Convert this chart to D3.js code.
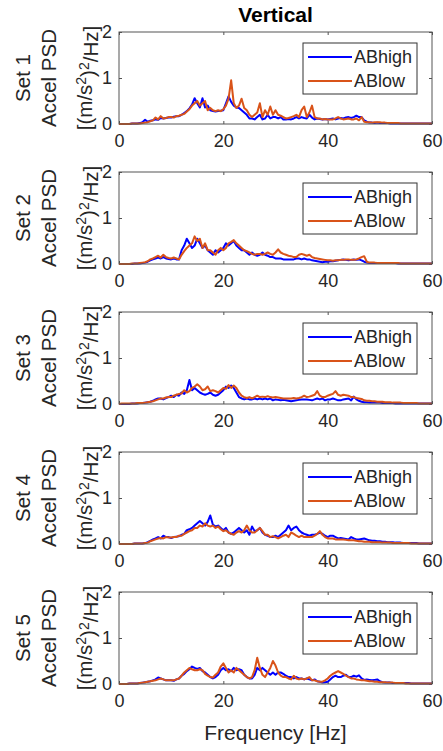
<!DOCTYPE html>
<html><head><meta charset="utf-8">
<script src="https://cdn.jsdelivr.net/npm/d3@7"></script>
<style>body{margin:0;background:#fff}svg{display:block}</style>
</head><body>
<script>
// ---- data ----
const title = "Vertical";
const setNames = ["Set 1","Set 2","Set 3","Set 4","Set 5"];
const seriesNames = ["ABhigh","ABlow"];
const xTicks = [0,20,40,60];
const yTicks = [0,1,2];
const freqStep = 0.5; // Hz, frequency grid 0..60
const set1High = [0.00,0.00,0.00,0.00,0.00,0.01,0.01,0.01,0.02,0.04,
0.09,0.05,0.07,0.08,0.10,0.09,0.13,0.12,0.13,0.14,
0.14,0.16,0.17,0.17,0.20,0.24,0.28,0.34,0.42,0.56,
0.45,0.36,0.56,0.36,0.40,0.30,0.28,0.27,0.28,0.29,
0.30,0.45,0.60,0.48,0.40,0.36,0.35,0.30,0.25,0.20,
0.12,0.12,0.10,0.15,0.20,0.10,0.12,0.20,0.12,0.15,
0.15,0.12,0.15,0.10,0.10,0.11,0.10,0.12,0.15,0.12,
0.15,0.13,0.12,0.20,0.14,0.10,0.12,0.11,0.10,0.11,
0.10,0.11,0.12,0.10,0.12,0.13,0.12,0.14,0.15,0.13,
0.15,0.18,0.15,0.15,0.08,0.05,0.03,0.03,0.02,0.03,
0.02,0.02,0.02,0.02,0.01,0.01,0.01,0.01,0.01,0.01,
0.01,0.01,0.01,0.01,0.01,0.01,0.01,0.01,0.01,0.01,0.01];
const set1Low = [0.00,0.00,0.00,0.00,0.00,0.01,0.01,0.01,0.01,0.02,
0.03,0.04,0.06,0.08,0.14,0.10,0.17,0.12,0.13,0.15,
0.15,0.14,0.17,0.18,0.20,0.22,0.27,0.32,0.40,0.45,
0.50,0.40,0.45,0.50,0.30,0.35,0.30,0.28,0.30,0.28,
0.32,0.40,0.55,0.95,0.45,0.35,0.40,0.55,0.35,0.30,
0.20,0.15,0.20,0.25,0.45,0.15,0.30,0.20,0.38,0.20,
0.30,0.20,0.18,0.15,0.12,0.13,0.15,0.17,0.20,0.15,
0.30,0.38,0.15,0.25,0.40,0.15,0.12,0.12,0.10,0.11,
0.10,0.10,0.10,0.12,0.15,0.12,0.10,0.11,0.12,0.10,
0.10,0.12,0.08,0.15,0.05,0.04,0.04,0.03,0.04,0.04,
0.04,0.03,0.03,0.02,0.02,0.02,0.02,0.02,0.01,0.01,
0.01,0.01,0.01,0.01,0.01,0.01,0.01,0.01,0.01,0.01,0.01];
const set2High = [0.00,0.00,0.00,0.00,0.00,0.00,0.01,0.01,0.01,0.02,
0.03,0.05,0.08,0.10,0.12,0.14,0.12,0.15,0.12,0.11,
0.10,0.12,0.10,0.10,0.30,0.40,0.55,0.45,0.35,0.40,
0.55,0.45,0.35,0.40,0.30,0.25,0.20,0.30,0.25,0.30,
0.35,0.45,0.40,0.45,0.50,0.40,0.35,0.30,0.30,0.25,
0.20,0.25,0.20,0.18,0.20,0.25,0.20,0.18,0.15,0.15,
0.12,0.12,0.12,0.10,0.10,0.10,0.10,0.10,0.12,0.12,
0.10,0.12,0.10,0.10,0.08,0.07,0.06,0.05,0.04,0.05,
0.05,0.06,0.06,0.07,0.08,0.09,0.10,0.09,0.08,0.09,
0.10,0.09,0.10,0.08,0.05,0.03,0.02,0.02,0.02,0.02,
0.02,0.02,0.02,0.02,0.02,0.02,0.02,0.01,0.01,0.01,
0.01,0.01,0.01,0.01,0.01,0.01,0.01,0.01,0.01,0.01,0.01];
const set2Low = [0.00,0.00,0.00,0.00,0.00,0.01,0.01,0.01,0.02,0.03,
0.04,0.06,0.10,0.12,0.15,0.18,0.14,0.20,0.15,0.13,
0.12,0.14,0.12,0.10,0.20,0.28,0.35,0.40,0.45,0.60,
0.50,0.55,0.35,0.45,0.30,0.30,0.25,0.20,0.30,0.35,
0.30,0.35,0.45,0.48,0.52,0.45,0.40,0.35,0.30,0.28,
0.25,0.22,0.20,0.22,0.22,0.20,0.22,0.25,0.22,0.20,
0.25,0.32,0.25,0.22,0.20,0.18,0.17,0.15,0.15,0.20,
0.22,0.20,0.18,0.20,0.15,0.13,0.12,0.11,0.10,0.09,
0.08,0.08,0.07,0.08,0.08,0.09,0.09,0.10,0.10,0.09,
0.09,0.10,0.12,0.15,0.17,0.05,0.03,0.03,0.03,0.02,
0.02,0.02,0.02,0.02,0.02,0.02,0.02,0.02,0.01,0.01,
0.01,0.01,0.01,0.01,0.01,0.01,0.01,0.01,0.01,0.01,0.01];
const set3High = [0.00,0.00,0.00,0.00,0.00,0.01,0.01,0.01,0.02,0.02,
0.03,0.04,0.05,0.07,0.10,0.12,0.12,0.10,0.13,0.15,
0.18,0.15,0.20,0.18,0.25,0.22,0.30,0.52,0.30,0.35,
0.30,0.25,0.22,0.20,0.22,0.25,0.20,0.18,0.20,0.25,
0.30,0.38,0.35,0.40,0.35,0.25,0.15,0.12,0.10,0.12,
0.10,0.10,0.12,0.10,0.12,0.10,0.12,0.10,0.12,0.08,
0.10,0.09,0.08,0.09,0.08,0.07,0.06,0.07,0.08,0.09,
0.10,0.10,0.10,0.09,0.08,0.10,0.12,0.10,0.12,0.08,
0.10,0.10,0.12,0.10,0.08,0.08,0.10,0.11,0.12,0.08,
0.16,0.10,0.07,0.05,0.04,0.04,0.03,0.03,0.03,0.03,
0.03,0.02,0.02,0.02,0.02,0.02,0.01,0.01,0.01,0.01,
0.01,0.01,0.01,0.01,0.01,0.01,0.01,0.01,0.01,0.01,0.01];
const set3Low = [0.00,0.01,0.01,0.01,0.01,0.01,0.01,0.02,0.02,0.02,
0.03,0.04,0.05,0.06,0.08,0.10,0.12,0.12,0.14,0.15,
0.15,0.18,0.20,0.22,0.23,0.30,0.25,0.28,0.35,0.38,
0.43,0.38,0.30,0.32,0.38,0.28,0.30,0.28,0.25,0.30,
0.35,0.33,0.41,0.35,0.40,0.35,0.25,0.18,0.15,0.13,
0.15,0.12,0.15,0.18,0.15,0.16,0.15,0.17,0.15,0.14,
0.15,0.14,0.13,0.12,0.12,0.12,0.12,0.13,0.12,0.13,
0.15,0.18,0.15,0.16,0.18,0.20,0.28,0.18,0.15,0.15,
0.18,0.20,0.22,0.28,0.20,0.18,0.20,0.19,0.18,0.15,
0.15,0.13,0.12,0.11,0.08,0.07,0.07,0.06,0.06,0.05,
0.05,0.05,0.04,0.04,0.04,0.03,0.03,0.03,0.03,0.02,
0.02,0.02,0.02,0.02,0.02,0.01,0.01,0.01,0.01,0.01,0.01];
const set4High = [0.00,0.00,0.00,0.00,0.00,0.00,0.01,0.01,0.01,0.01,
0.02,0.04,0.07,0.10,0.12,0.15,0.12,0.18,0.15,0.15,
0.13,0.15,0.16,0.17,0.20,0.22,0.30,0.32,0.35,0.40,
0.45,0.50,0.45,0.40,0.48,0.62,0.42,0.38,0.40,0.35,
0.30,0.35,0.25,0.22,0.25,0.30,0.35,0.30,0.25,0.30,
0.20,0.38,0.28,0.30,0.35,0.25,0.20,0.18,0.15,0.15,
0.18,0.15,0.20,0.25,0.30,0.40,0.30,0.35,0.38,0.30,
0.25,0.22,0.20,0.18,0.20,0.20,0.22,0.25,0.22,0.18,
0.15,0.18,0.18,0.15,0.12,0.13,0.12,0.11,0.10,0.15,
0.12,0.10,0.10,0.11,0.12,0.10,0.08,0.07,0.07,0.06,
0.06,0.05,0.05,0.04,0.04,0.04,0.03,0.03,0.03,0.02,
0.02,0.02,0.02,0.02,0.02,0.01,0.01,0.01,0.01,0.01,0.01];
const set4Low = [0.00,0.00,0.00,0.00,0.00,0.00,0.01,0.01,0.01,0.01,
0.02,0.03,0.06,0.08,0.10,0.12,0.13,0.12,0.15,0.14,
0.14,0.15,0.15,0.18,0.18,0.22,0.25,0.28,0.30,0.35,
0.35,0.40,0.38,0.45,0.40,0.38,0.40,0.35,0.38,0.32,
0.28,0.30,0.25,0.22,0.20,0.25,0.28,0.25,0.30,0.40,
0.30,0.25,0.25,0.30,0.35,0.28,0.20,0.20,0.15,0.17,
0.15,0.12,0.15,0.18,0.20,0.15,0.25,0.22,0.18,0.15,
0.18,0.15,0.15,0.15,0.15,0.18,0.22,0.28,0.20,0.15,
0.12,0.12,0.12,0.10,0.10,0.10,0.10,0.09,0.08,0.08,
0.08,0.07,0.06,0.06,0.05,0.05,0.05,0.04,0.04,0.04,
0.04,0.03,0.03,0.03,0.03,0.02,0.02,0.02,0.02,0.02,
0.02,0.02,0.01,0.01,0.01,0.01,0.01,0.01,0.01,0.01,0.01];
const set5High = [0.00,0.00,0.00,0.00,0.01,0.01,0.01,0.01,0.02,0.03,
0.04,0.05,0.06,0.08,0.10,0.14,0.12,0.10,0.08,0.08,
0.08,0.07,0.10,0.12,0.18,0.22,0.28,0.32,0.38,0.35,
0.33,0.35,0.28,0.25,0.20,0.15,0.12,0.15,0.20,0.30,
0.35,0.30,0.32,0.28,0.35,0.30,0.32,0.30,0.20,0.15,
0.12,0.12,0.20,0.35,0.30,0.35,0.30,0.25,0.20,0.25,
0.20,0.25,0.25,0.22,0.18,0.15,0.15,0.12,0.15,0.12,
0.12,0.10,0.12,0.10,0.08,0.10,0.06,0.05,0.03,0.04,
0.05,0.10,0.15,0.18,0.15,0.15,0.18,0.20,0.15,0.15,
0.18,0.16,0.19,0.12,0.09,0.10,0.09,0.08,0.09,0.10,
0.06,0.04,0.03,0.03,0.03,0.02,0.02,0.02,0.02,0.02,
0.02,0.02,0.01,0.01,0.01,0.01,0.01,0.01,0.01,0.01,0.01];
const set5Low = [0.00,0.00,0.00,0.00,0.01,0.01,0.01,0.01,0.02,0.03,
0.04,0.05,0.06,0.07,0.08,0.10,0.12,0.10,0.08,0.08,
0.08,0.08,0.10,0.12,0.18,0.25,0.30,0.35,0.32,0.30,
0.30,0.32,0.30,0.22,0.18,0.15,0.14,0.20,0.25,0.38,
0.45,0.35,0.25,0.30,0.25,0.35,0.30,0.25,0.20,0.15,
0.12,0.15,0.30,0.57,0.35,0.20,0.15,0.25,0.35,0.50,
0.40,0.25,0.18,0.15,0.15,0.12,0.10,0.18,0.12,0.10,
0.12,0.10,0.12,0.15,0.08,0.08,0.06,0.05,0.05,0.08,
0.12,0.18,0.22,0.25,0.28,0.25,0.22,0.18,0.15,0.12,
0.12,0.10,0.09,0.08,0.08,0.07,0.06,0.06,0.05,0.05,
0.04,0.04,0.04,0.03,0.03,0.03,0.02,0.02,0.02,0.02,
0.01,0.01,0.01,0.01,0.01,0.01,0.01,0.01,0.01,0.01,0.01];
const highSeries = [set1High,set2High,set3High,set4High,set5High];
const lowSeries = [set1Low,set2Low,set3Low,set4Low,set5Low];
const colors = ["#0000ff","#d95319"];

// ---- layout ----
const W = 443, H = 751;
const left = 119, right = 432, top0 = 32, ph = 92, step = 140;
const font = "'Liberation Sans', Arial, Helvetica, sans-serif";
const txt = "#262626";

const svg = d3.select("body").append("svg").attr("width", W).attr("height", H)
  .style("font-family", font);
svg.append("rect").attr("width", W).attr("height", H).attr("fill", "#fff");

const x = d3.scaleLinear().domain([0, 60]).range([left, right]);

svg.append("text").attr("x", (left + right) / 2).attr("y", 22)
  .attr("text-anchor", "middle").attr("font-weight", "bold")
  .attr("font-size", 21).attr("fill", "#000").text(title);

setNames.forEach((name, i) => {
  const top = top0 + i * step;
  const y = d3.scaleLinear().domain([0, 2]).range([top + ph, top]);
  const g = svg.append("g");

  // axes
  const styleAxis = sel => {
    sel.select(".domain").attr("stroke", "none");
    sel.selectAll(".tick line").attr("stroke", "#262626").attr("stroke-width", 0.8);
    sel.selectAll("text").attr("fill", txt).attr("font-size", 18).attr("font-family", font);
  };
  g.append("g").attr("transform", `translate(0,${top + ph})`)
    .call(d3.axisBottom(x).tickValues(xTicks).tickSize(-3).tickPadding(10).tickFormat(d3.format("d")))
    .call(styleAxis);
  g.append("g").attr("transform", `translate(0,${top})`)
    .call(d3.axisTop(x).tickValues(xTicks).tickSize(-3).tickFormat(""))
    .call(styleAxis);
  g.append("g").attr("transform", `translate(${left},0)`)
    .call(d3.axisLeft(y).tickValues(yTicks).tickSize(-3).tickPadding(7).tickFormat(d3.format("d")))
    .call(styleAxis);
  g.append("g").attr("transform", `translate(${right},0)`)
    .call(d3.axisRight(y).tickValues(yTicks).tickSize(-3).tickFormat(""))
    .call(styleAxis);

  // lines
  const line = d3.line().x((d, k) => x(k * freqStep)).y(d => y(d));
  [highSeries[i], lowSeries[i]].forEach((s, k) => {
    g.append("path").datum(s).attr("d", line).attr("fill", "none")
      .attr("stroke", colors[k]).attr("stroke-width", 2).attr("stroke-linejoin", "round");
  });

  // box
  g.append("rect").attr("x", left).attr("y", top).attr("width", right - left).attr("height", ph)
    .attr("fill", "none").attr("stroke", "#555").attr("stroke-width", 1);

  // legend
  const lg = g.append("g").attr("transform", `translate(303,${top + 11})`);
  lg.append("rect").attr("width", 114).attr("height", 51).attr("fill", "#fff")
    .attr("stroke", "#333").attr("stroke-width", 1);
  seriesNames.forEach((nm, k) => {
    const yy = 14 + k * 24;
    lg.append("line").attr("x1", 5).attr("x2", 49).attr("y1", yy).attr("y2", yy)
      .attr("stroke", colors[k]).attr("stroke-width", 2);
    lg.append("text").attr("x", 51).attr("y", yy).attr("dy", "0.35em")
      .attr("font-size", 18).attr("fill", txt).text(nm);
  });

  // y labels
  const cy = top + ph / 2;
  const lab = (xc, cb) => {
    const t = g.append("text").attr("transform", `translate(${xc},${cy}) rotate(-90)`)
      .attr("text-anchor", "middle").attr("dy", "0.35em")
      .attr("font-size", 20.5).attr("fill", txt);
    cb(t);
  };
  lab(23, t => t.text(name));
  lab(49, t => t.text("Accel PSD"));
  lab(85, t => {
    t.append("tspan").text("[(m/s");
    t.append("tspan").attr("dy", "-0.45em").attr("font-size", 14).text("2");
    t.append("tspan").attr("dy", "0.45em").text(")");
    t.append("tspan").attr("dy", "-0.45em").attr("font-size", 14).text("2");
    t.append("tspan").attr("dy", "0.45em").text("/Hz]");
  });
});

svg.append("text").attr("x", (left + right) / 2).attr("y", 740)
  .attr("text-anchor", "middle").attr("font-size", 21).attr("fill", txt)
  .text("Frequency [Hz]");
</script>
</body></html>
